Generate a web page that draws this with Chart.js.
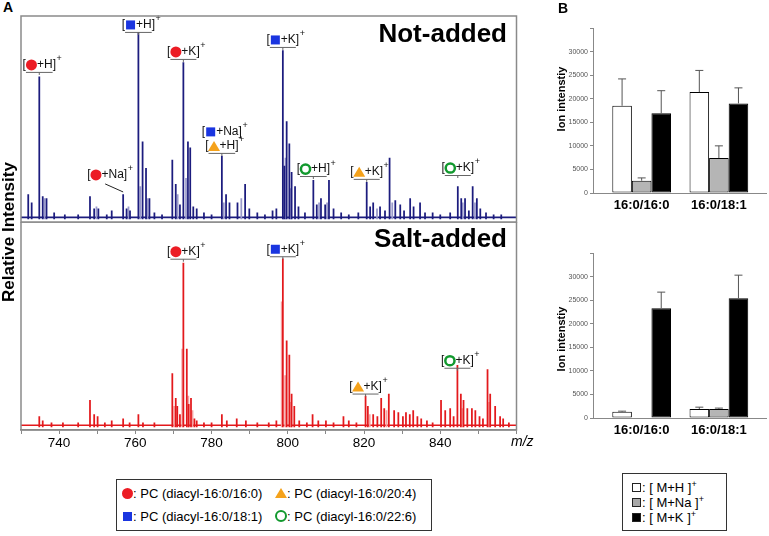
<!DOCTYPE html>
<html>
<head>
<meta charset="utf-8">
<script src="https://cdn.jsdelivr.net/npm/chart.js@4.4.0/dist/chart.umd.min.js"></script>
<style>
    body { margin: 0; background: #fff; font-family: "Liberation Sans", Arial, sans-serif; }
    #fig { position: relative; width: 769px; height: 536px; overflow: hidden; background: #fff; }
    canvas { position: absolute; }
    .txt { position: absolute; white-space: nowrap; color: #000; }
    .panel { font-weight: bold; font-size: 14px; }
    .big { font-weight: bold; font-size: 26px; line-height: 26px; }
    .rot { transform: rotate(-90deg); text-align: center; }
    .box { position: absolute; border: 1px solid #333; background: #fff; box-sizing: border-box; }
    .box .txt { font-size: 13px; line-height: 15px; }
    .sym { position: absolute; display: block; box-sizing: border-box; }
    .circ { width: 11px; height: 11px; border-radius: 50%; background: #ec1c24; }
    .sq { width: 9px; height: 9px; background: #1a35e0; }
    .tri { width: 0; height: 0; border-left: 6px solid transparent; border-right: 6px solid transparent; border-bottom: 10px solid #f5a21b; }
    .ring { width: 12px; height: 12px; border-radius: 50%; border: 2.5px solid #12992e; }
    .key { width: 9px; height: 9px; border: 1px solid #222; }
    sup { font-size: 9px; vertical-align: 5px; line-height: 0; }
</style>
</head>
<body>
<div id="fig">
    <canvas id="spec-top" width="502" height="210" style="left:18px;top:13px"></canvas>
    <canvas id="spec-bottom" width="502" height="234" style="left:18px;top:222px"></canvas>
    <canvas id="bars-top" width="229" height="208" style="left:540px;top:20px"></canvas>
    <canvas id="bars-bottom" width="229" height="208" style="left:540px;top:245px"></canvas>

    <div class="txt panel" style="left:3px;top:-1px">A</div>
    <div class="txt panel" style="left:558px;top:0px">B</div>
    <div class="txt big" style="right:262px;top:20px">Not-added</div>
    <div class="txt big" style="right:262px;top:225px">Salt-added</div>
    <div class="txt rot" style="left:-91px;top:222px;width:200px;font-weight:bold;font-size:17px;line-height:20px">Relative Intensity</div>
    <div class="txt" style="left:511px;top:433px;font-size:14px;font-style:italic">m/z</div>
    <div class="txt rot" style="left:511px;top:92px;width:100px;font-weight:bold;font-size:11px;line-height:14px">Ion intenstiy</div>
    <div class="txt rot" style="left:511px;top:332px;width:100px;font-weight:bold;font-size:11px;line-height:14px">Ion intenstiy</div>

    <div class="box" style="left:116px;top:479px;width:316px;height:52px">
        <span class="sym circ" style="left:5px;top:8px"></span>
        <span class="txt" style="left:16px;top:6px">: PC (diacyl-16:0/16:0)</span>
        <span class="sym sq" style="left:6px;top:32px"></span>
        <span class="txt" style="left:16px;top:29px">: PC (diacyl-16:0/18:1)</span>
        <span class="sym tri" style="left:158px;top:8px"></span>
        <span class="txt" style="left:170px;top:6px">: PC (diacyl-16:0/20:4)</span>
        <span class="sym ring" style="left:158px;top:30px"></span>
        <span class="txt" style="left:170px;top:29px">: PC (diacyl-16:0/22:6)</span>
    </div>

    <div class="box" style="left:622px;top:473px;width:105px;height:58px">
        <span class="sym key" style="left:9px;top:9px;background:#fff"></span>
        <span class="txt" style="left:19px;top:6px">: [ M+H ]<sup>+</sup></span>
        <span class="sym key" style="left:9px;top:24px;background:#a8a8a8"></span>
        <span class="txt" style="left:19px;top:21px">: [ M+Na ]<sup>+</sup></span>
        <span class="sym key" style="left:9px;top:39px;background:#000"></span>
        <span class="txt" style="left:19px;top:36px">: [ M+K ]<sup>+</sup></span>
    </div>
</div>

<script>
// ---- spectra (m/z, relative intensity) ----
const mzRange = [730, 860];
const mzTicks = [740, 760, 780, 800, 820, 840];
const baselineLevel = 0.8;

const notAddedMz = [731.9, 732.8, 734.8, 735.7, 736.7, 738.7, 741.5, 745, 748.1, 749.2, 750.3, 752.5, 753.8,
    756.8, 757.7, 758.6, 760.8, 761.9, 762.8, 763.7, 765, 767, 769.7, 770.6, 771.7, 772.6, 773.8, 774.4,
    775.2, 776.1, 778, 780, 782.7, 783.8, 784.7, 786.8, 788.8, 789.9, 792, 794, 796, 797, 798.7, 799.1,
    799.7, 800.4, 801, 801.9, 802.8, 804.5, 806.7, 807.6, 808.7, 809.8, 810.8, 812, 814, 816, 818.5,
    820.7, 821.6, 822.4, 824.2, 825.5, 826.7, 828.2, 829.5, 830.5, 832.1, 833, 834.7, 836, 838, 840,
    842.6, 844.6, 845.5, 846.5, 847.5, 848.5, 849.6, 850.5, 852, 854, 856];
const notAddedInt = [12, 8, 70, 11, 10, 3, 2, 2, 11, 5, 5, 2, 4,
    12, 5, 4, 92, 38, 25, 10, 3, 2, 29, 17, 7, 77, 38, 35,
    6, 5, 3, 2, 31, 12, 8, 8, 17, 5, 3, 2, 4, 5, 83, 26,
    48, 37, 23, 16, 6, 3, 19, 7, 10, 7, 19, 5, 3, 2, 3,
    18, 6, 8, 6, 4, 30, 9, 7, 4, 10, 6, 8, 3, 3, 2,
    3, 16, 10, 10, 4, 16, 10, 5, 3, 2, 2];
const notAddedShoulderMz = [736.2, 749.8, 758.2, 761.3, 763.2, 771.1, 773.3, 783.2, 787.8, 799.4, 800.8,
    808.2, 810.3, 823.4, 827.4, 845.9, 849.1];
const notAddedShoulderInt = [10, 6, 6, 16, 10, 12, 20, 8, 10, 30, 15, 8, 8, 5, 8, 8, 8];

const saltAddedMz = [734.8, 735.7, 738, 741, 745, 748.1, 749.2, 750.1, 752, 753.8, 756.8, 758.5, 760.8,
    762, 765, 769.7, 770.6, 771, 771.7, 772.6, 773.5, 774, 774.6, 775.5, 776.1, 778, 780, 782.7, 784,
    786.6, 789, 792, 795, 797, 798.7, 799.7, 800.4, 801, 801.7, 803, 805, 806.5, 808, 810, 812, 814.6,
    816, 818, 820.4, 821, 822.4, 823.5, 824.5, 825.3, 826.5, 827.9, 829, 830.2, 831, 832, 832.9, 834,
    835, 836.5, 838, 840.2, 841.3, 842.6, 843.5, 844.5, 845.4, 846.1, 847.1, 848.3, 849.2, 850.3,
    851.2, 852.4, 853.1, 854.4, 855.7, 856.5, 858];
const saltAddedInt = [5, 3, 2, 2, 2, 13, 6, 5, 2, 3, 4, 2, 6,
    2, 2, 26, 14, 10, 6, 80, 38, 11, 14, 4, 3, 2, 2, 6, 3,
    4, 3, 2, 2, 3, 82, 42, 35, 16, 10, 3, 2, 6, 3, 3, 2, 5,
    3, 2, 15, 10, 6, 5, 14, 9, 16, 8, 7, 5, 7, 6, 8, 5,
    4, 3, 2, 13, 8, 9, 5, 30, 16, 13, 9, 9, 8, 5,
    4, 28, 16, 10, 5, 4, 2];
const saltAddedShoulderMz = [770.2, 772.3, 773.9, 775, 798.4, 799.3, 800.8, 821.5, 825.9, 845.8, 852.8];
const saltAddedShoulderInt = [10, 38, 15, 8, 61, 25, 12, 6, 8, 9, 12];

// ---- ion intensity bars ----
const lipids = ['16:0/16:0', '16:0/18:1'];
const notAddedH = [18500, 21400], notAddedHErr = [5700, 4600];
const notAddedNa = [2600, 7400], notAddedNaErr = [600, 2600];
const notAddedK = [16900, 19000], notAddedKErr = [4800, 3300];
const saltAddedH = [1300, 1900], saltAddedHErr = [150, 400];
const saltAddedNa = [null, 1900], saltAddedNaErr = [0, 200];
const saltAddedK = [23300, 25400], saltAddedKErr = [3400, 4900];

const FONT = '"Liberation Sans", Arial, sans-serif';
const symColors = { circle: '#ec1c24', square: '#1a35e0', triangle: '#f5a21b', ring: '#12992e' };

function drawSymbol(ctx, sym, cx, cy) {
    ctx.save();
    ctx.fillStyle = symColors[sym];
    ctx.strokeStyle = symColors[sym];
    if (sym === 'circle') {
        ctx.beginPath(); ctx.arc(cx, cy, 5.5, 0, Math.PI * 2); ctx.fill();
    } else if (sym === 'square') {
        ctx.fillRect(cx - 4.5, cy - 4.5, 9, 9);
    } else if (sym === 'triangle') {
        ctx.beginPath(); ctx.moveTo(cx, cy - 5); ctx.lineTo(cx + 6, cy + 5); ctx.lineTo(cx - 6, cy + 5); ctx.closePath(); ctx.fill();
    } else {
        ctx.lineWidth = 2.5;
        ctx.beginPath(); ctx.arc(cx, cy, 4.6, 0, Math.PI * 2); ctx.stroke();
    }
    ctx.restore();
}

// labels like [●+K]+ above the peaks (items kept in a closure, not in chart options)
function ionLabels(items) {
    return {
        id: 'ionLabels',
        afterDatasetsDraw(chart) {
            const ctx = chart.ctx;
            const xs = chart.scales.x, ys = chart.scales.y;
            items.forEach(it => {
                const cx = xs.getPixelForValue(it.at !== undefined ? it.at : it.mz);
                const cy = ys.getPixelForValue(it.y);
                ctx.save();
                ctx.textBaseline = 'middle';
                ctx.textAlign = 'left';
                ctx.fillStyle = '#111';
                ctx.font = '12px ' + FONT;
                const wL = ctx.measureText('[').width;
                const wIon = ctx.measureText(it.ion).width;
                const wR = ctx.measureText(']').width;
                const uW = 11 + wIon;
                const x0 = cx - uW / 2 - wL;
                ctx.fillText('[', x0, cy);
                drawSymbol(ctx, it.sym, x0 + wL + 5.5, cy);
                ctx.fillText(it.ion + ']', x0 + wL + 11, cy);
                ctx.font = '9px ' + FONT;
                ctx.fillText('+', x0 + wL + uW + wR + 0.5, cy - 6);
                ctx.strokeStyle = '#666';
                ctx.lineWidth = 1;
                if (it.line) {
                    ctx.beginPath();
                    ctx.moveTo(x0 + wL, cy + 7.5); ctx.lineTo(x0 + wL + uW, cy + 7.5);
                    ctx.moveTo(cx, cy + 7.5); ctx.lineTo(cx, cy + 10);
                    ctx.stroke();
                }
                if (it.leader !== undefined) {
                    ctx.strokeStyle = '#222';
                    ctx.beginPath();
                    ctx.moveTo(cx - 2, cy + 9);
                    ctx.lineTo(xs.getPixelForValue(it.mz), ys.getPixelForValue(it.leader));
                    ctx.stroke();
                }
                ctx.restore();
            });
        }
    };
}

const frame = {
    id: 'frame',
    afterDraw(chart) {
        const a = chart.chartArea, ctx = chart.ctx;
        ctx.save();
        ctx.strokeStyle = '#8a8a8a';
        ctx.lineWidth = 1.5;
        ctx.strokeRect(a.left, a.top, a.right - a.left, a.bottom - a.top);
        ctx.restore();
    }
};

function spectrum(id, mz, inten, shMz, shInt, dark, light, labels, showAxis) {
    const pts = [], cols = [];
    shMz.forEach((x, i) => { pts.push({ x: x, y: shInt[i] }); cols.push(light); });
    mz.forEach((x, i) => { pts.push({ x: x, y: inten[i] }); cols.push(dark); });

    const xAxis = {
        type: 'linear', min: mzRange[0], max: mzRange[1], offset: false,
        display: showAxis,
        grid: { offset: false, drawOnChartArea: false, tickLength: 4, color: '#888' },
        border: { color: '#888', width: 1.5 },
        ticks: {
            stepSize: 10, autoSkip: false, maxRotation: 0, padding: 1,
            color: '#000', font: { family: FONT, size: 13.5 },
            callback: v => mzTicks.includes(v) ? v : ''
        }
    };
    if (showAxis) xAxis.afterFit = s => { s.height = 26; };

    return new Chart(document.getElementById(id), {
        type: 'bar',
        data: {
            datasets: [
                { data: pts, backgroundColor: cols, borderWidth: 0, barThickness: 1.1 },
                {
                    type: 'line',
                    data: [{ x: mzRange[0], y: baselineLevel }, { x: mzRange[1], y: baselineLevel }],
                    borderColor: dark, borderWidth: 1.6, pointRadius: 0
                }
            ]
        },
        options: {
            responsive: false,
            animation: false,
            events: [],
            layout: { padding: showAxis ? { left: 3, right: 3.5, top: 0, bottom: 0 } : { left: 3, right: 3.5, top: 3, bottom: 1 } },
            plugins: { legend: { display: false }, tooltip: { enabled: false } },
            scales: {
                x: xAxis,
                y: { min: -1.5, max: 100, display: false }
            }
        },
        plugins: [ionLabels(labels), frame]
    });
}

spectrum('spec-top', notAddedMz, notAddedInt, notAddedShoulderMz, notAddedShoulderInt, '#1c1c7e', '#9a9acb', [
    { mz: 734.8, y: 75.9, sym: 'circle', ion: '+H', line: true },
    { mz: 756.8, at: 752.6, y: 21.7, sym: 'circle', ion: '+Na', line: false, leader: 13.3 },
    { mz: 760.8, y: 95.6, sym: 'square', ion: '+H', line: true },
    { mz: 772.6, y: 82.3, sym: 'circle', ion: '+K', line: true },
    { mz: 782.7, y: 42.9, sym: 'square', ion: '+Na', line: false },
    { mz: 782.7, y: 36.0, sym: 'triangle', ion: '+H', line: true },
    { mz: 798.7, y: 88.2, sym: 'square', ion: '+K', line: true },
    { mz: 806.7, y: 24.6, sym: 'ring', ion: '+H', line: true },
    { mz: 820.7, y: 23.2, sym: 'triangle', ion: '+K', line: true },
    { mz: 844.6, y: 25.1, sym: 'ring', ion: '+K', line: true }
], false);

spectrum('spec-bottom', saltAddedMz, saltAddedInt, saltAddedShoulderMz, saltAddedShoulderInt, '#e3191c', '#f4a3a3', [
    { mz: 772.6, y: 85.5, sym: 'circle', ion: '+K', line: true },
    { mz: 798.7, y: 86.7, sym: 'square', ion: '+K', line: true },
    { mz: 820.4, y: 19.7, sym: 'triangle', ion: '+K', line: true },
    { mz: 844.5, y: 32.3, sym: 'ring', ion: '+K', line: true }
], true);

// error bars drawn upward from each bar
const errorBars = {
    id: 'errorBars',
    afterDatasetsDraw(chart) {
        const ctx = chart.ctx, ys = chart.scales.y;
        chart.data.datasets.forEach((ds, di) => {
            const meta = chart.getDatasetMeta(di);
            meta.data.forEach((bar, i) => {
                const v = ds.data[i].y;
                if (v === null || !ds.err[i]) return;
                const top = ys.getPixelForValue(v + ds.err[i]);
                ctx.save();
                ctx.strokeStyle = '#555';
                ctx.lineWidth = 1;
                ctx.beginPath();
                ctx.moveTo(bar.x, bar.y); ctx.lineTo(bar.x, top);
                ctx.moveTo(bar.x - 4, top); ctx.lineTo(bar.x + 4, top);
                ctx.stroke();
                ctx.restore();
            });
        });
    }
};

// x is the lipid index on a linear axis so the category spacing can follow the figure
function ionBars(id, h, hErr, na, naErr, k, kErr) {
    const common = { borderColor: '#000', borderWidth: 1, borderSkipped: false };
    const pts = vals => vals.map((v, i) => ({ x: i, y: v }));
    return new Chart(document.getElementById(id), {
        type: 'bar',
        data: {
            datasets: [
                Object.assign({ data: pts(h), err: hErr, backgroundColor: '#fff' }, common),
                Object.assign({ data: pts(na), err: naErr, backgroundColor: '#b5b5b5' }, common),
                Object.assign({ data: pts(k), err: kErr, backgroundColor: '#000' }, common)
            ]
        },
        options: {
            responsive: false,
            animation: false,
            events: [],
            layout: { padding: { left: 0, right: 3, top: 8, bottom: 0 } },
            datasets: { bar: { categoryPercentage: 0.76, barPercentage: 1 } },
            plugins: { legend: { display: false }, tooltip: { enabled: false } },
            scales: {
                x: {
                    type: 'linear', min: -0.63, max: 1.61, offset: false,
                    grid: { display: false },
                    border: { color: '#888', width: 1 },
                    afterBuildTicks: s => { s.ticks = lipids.map((_, i) => ({ value: i })); },
                    ticks: {
                        color: '#000', padding: -3, autoSkip: false, maxRotation: 0,
                        font: { family: FONT, size: 13, weight: 'bold' },
                        callback: v => lipids[v]
                    },
                    afterFit: s => { s.height = 35; }
                },
                y: {
                    min: 0, max: 35000,
                    grid: { drawOnChartArea: false, tickLength: 3, color: '#888' },
                    border: { color: '#888', width: 1 },
                    ticks: {
                        stepSize: 5000, padding: 2, color: '#555', font: { family: FONT, size: 7 },
                        callback: v => v > 30000 ? '' : v
                    },
                    afterFit: s => { s.width = 53; }
                }
            }
        },
        plugins: [errorBars]
    });
}

ionBars('bars-top', notAddedH, notAddedHErr, notAddedNa, notAddedNaErr, notAddedK, notAddedKErr);
ionBars('bars-bottom', saltAddedH, saltAddedHErr, saltAddedNa, saltAddedNaErr, saltAddedK, saltAddedKErr);
</script>
</body>
</html>
